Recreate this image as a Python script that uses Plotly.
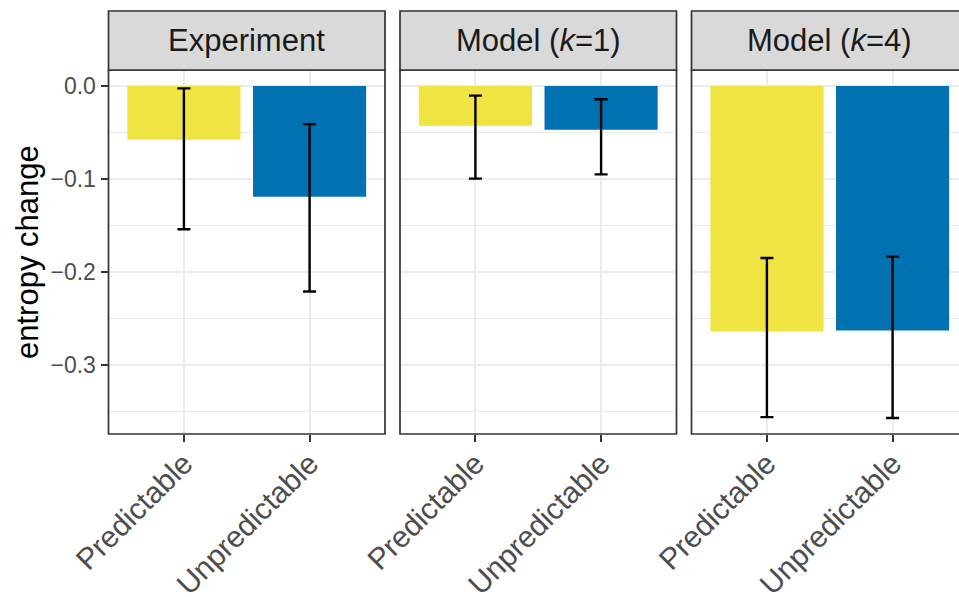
import plotly.graph_objects as go

W, H = 959, 597

panels = ["Experiment", "Model (<i>k</i>=1)", "Model (<i>k</i>=4)"]
categories = ["Predictable", "Unpredictable"]
colors = ["#F0E442", "#0072B2"]

means = [[-0.0577, -0.119], [-0.0427, -0.047], [-0.264, -0.263]]
upper = [[-0.0025, -0.041], [-0.0104, -0.0143], [-0.185, -0.1835]]
lower = [[-0.154, -0.221], [-0.0996, -0.095], [-0.356, -0.357]]

y_ticks = [0.0, -0.1, -0.2, -0.3]
y_minor = [-0.05, -0.15, -0.25, -0.35]

# panel geometry in pixels
panel_px = [(108.5, 385.0), (400.0, 676.5), (691.5, 968.0)]
top_px, bot_px = 70.0, 434.0
strip_top = 11.0
unit_px = (panel_px[0][1] - panel_px[0][0]) / 2.2

fig = go.Figure()
for i in range(3):
    ax = "" if i == 0 else str(i + 1)
    fig.add_trace(go.Bar(
        x=categories, y=means[i], width=0.9,
        marker=dict(color=colors, line=dict(width=0)),
        error_y=dict(type="data", symmetric=False,
                     array=[u - m for u, m in zip(upper[i], means[i])],
                     arrayminus=[m - l for m, l in zip(means[i], lower[i])],
                     color="black", thickness=2.4, width=6.5),
        xaxis="x" + ax, yaxis="y" + ax, showlegend=False,
    ))

grid = "#EBEBEB"
ydom = [(H - bot_px) / H, (H - top_px) / H]
yr = [-(bot_px - 86.0) / 930.0, (86.0 - top_px) / 930.0]

for i in range(3):
    x0, x1 = panel_px[i]
    dom_end = min(x1, W) / W
    xr_end = 1.6 - (x1 - min(x1, W)) / unit_px
    xkey = "xaxis" if i == 0 else f"xaxis{i+1}"
    ykey = "yaxis" if i == 0 else f"yaxis{i+1}"
    ax = "" if i == 0 else str(i + 1)
    fig.layout[xkey] = dict(
        domain=[x0 / W, dom_end], range=[-0.6, xr_end], anchor="y" + ax,
        type="category", showgrid=True, gridcolor=grid, gridwidth=1.6,
        ticks="outside", ticklen=7, tickwidth=1.7, tickcolor="#333333",
        tickangle=-45, tickfont=dict(size=30, color="#4D4D4D"),
        ticklabelstandoff=-8,
        showline=False, zeroline=False, fixedrange=True,
    )
    yd = dict(
        domain=ydom, range=yr, anchor="x" + ax,
        tickvals=y_ticks, tickformat=".1f", showgrid=True, gridcolor=grid,
        gridwidth=1.6, zeroline=False, showline=False,
        minor=dict(tickvals=y_minor, showgrid=True, gridcolor=grid, gridwidth=0.9, ticklen=0),
        fixedrange=True,
    )
    if i == 0:
        yd.update(ticks="outside", ticklen=7, tickwidth=1.7, tickcolor="#333333",
                  tickfont=dict(size=23, color="#4D4D4D"), showticklabels=True)
    else:
        yd.update(ticks="", showticklabels=False, matches="y")
    fig.layout[ykey] = yd

    # panel border
    fig.add_shape(type="rect", xref="paper", yref="paper",
                  x0=x0 / W, x1=x1 / W, y0=ydom[0], y1=ydom[1],
                  line=dict(color="#333333", width=1.7), fillcolor="rgba(0,0,0,0)", layer="above")
    # strip
    fig.add_shape(type="rect", xref="paper", yref="paper",
                  x0=x0 / W, x1=x1 / W, y0=ydom[1], y1=(H - strip_top) / H,
                  line=dict(color="#333333", width=1.7), fillcolor="#D9D9D9", layer="above")
    fig.add_annotation(text=panels[i], xref="paper", yref="paper",
                       x=(x0 + x1) / 2 / W, y=(H - (strip_top + top_px) / 2) / H,
                       showarrow=False, xanchor="center", yanchor="middle",
                       font=dict(size=31, color="#1A1A1A"))

fig.add_annotation(text="entropy change", xref="paper", yref="paper",
                   x=27 / W, y=(H - (top_px + bot_px) / 2) / H, textangle=-90,
                   showarrow=False, xanchor="center", yanchor="middle",
                   font=dict(size=31, color="black"))

fig.update_layout(
    width=W, height=H, margin=dict(l=0, r=0, t=0, b=0, autoexpand=False),
    paper_bgcolor="white", plot_bgcolor="white",
    font=dict(family="Liberation Sans, Arial, sans-serif"),
    bargap=0.1,
)
fig.write_html("out.html", config={"displayModeBar": False},
               post_script="document.body.style.margin='0';document.body.style.overflow='hidden';")
